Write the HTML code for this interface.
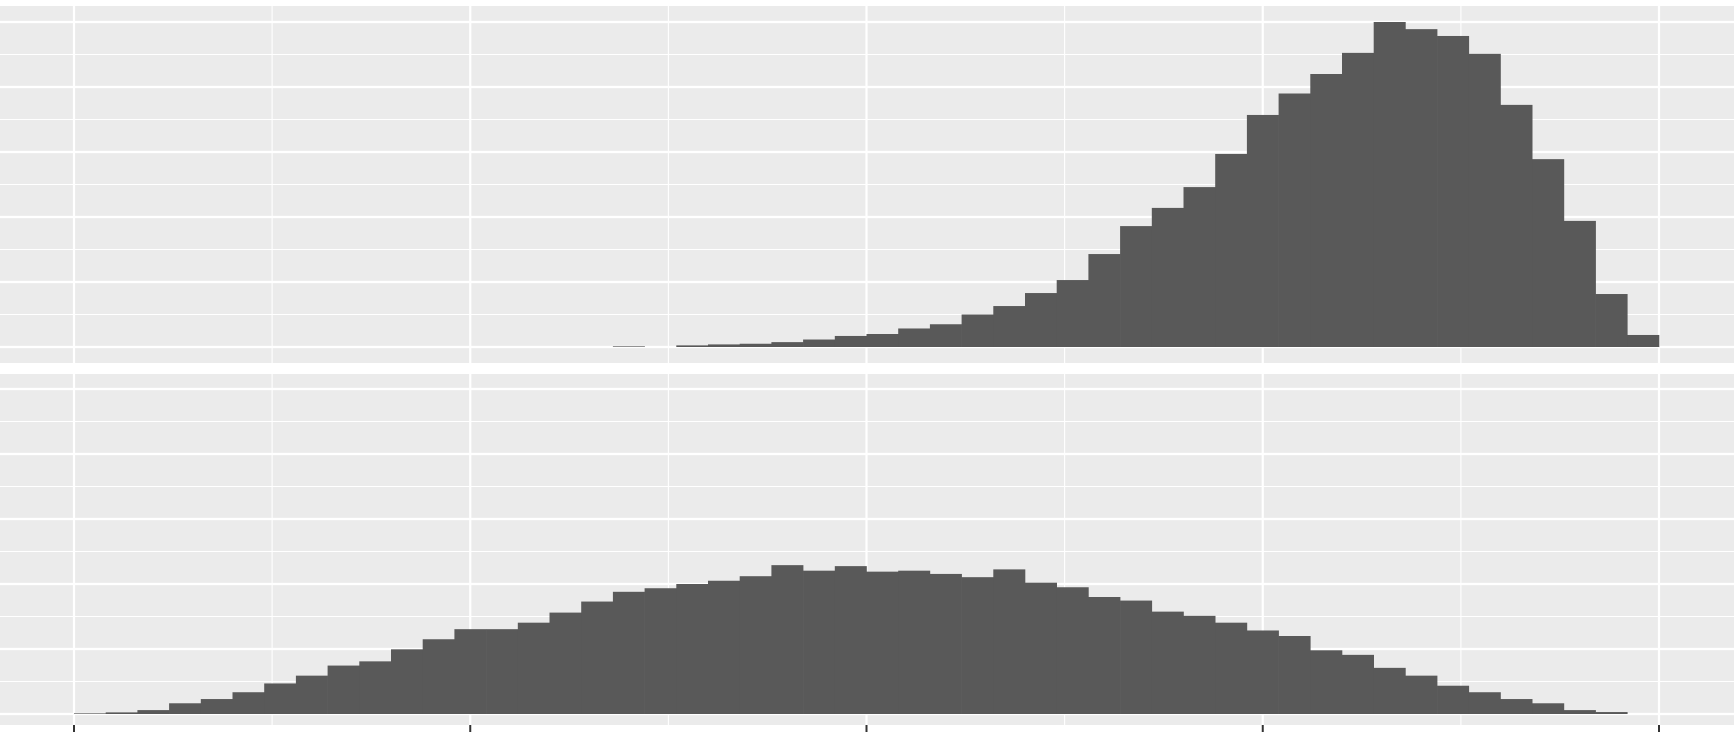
<!DOCTYPE html>
<html><head><meta charset="utf-8"><style>
html,body{margin:0;padding:0;background:#fff;}
svg{display:block;}
</style></head><body>
<svg id="chart" width="1734" height="732" xmlns="http://www.w3.org/2000/svg"></svg>
<script>
const binCount = 50;
const topValues = [0,0,0,0,0,0,0,0,0,0,0,0,0,0,0,0,
 0,0.02,0,0.05,0.08,0.1,0.15,0.23,0.34,0.4,0.57,0.7,1.0,1.26,1.66,2.06,2.86,3.72,4.28,4.92,5.94,7.14,7.8,8.4,9.05,10.0,9.78,9.57,9.02,7.45,5.78,3.88,1.63,0.37];
const bottomValues = [0.02,0.05,0.12,0.33,0.46,0.67,0.94,1.18,1.49,1.62,1.99,2.3,2.61,2.61,2.81,3.12,3.46,3.76,3.87,4.0,4.1,4.24,4.58,4.41,4.55,4.38,4.41,4.31,4.21,4.45,4.04,3.9,3.6,3.49,3.15,3.02,2.81,2.57,2.4,1.96,1.82,1.42,1.18,0.87,0.67,0.46,0.33,0.12,0.06,0];
const xTicks = [0,1,2,3,4];

const NS='http://www.w3.org/2000/svg';
const svg=document.getElementById('chart');
const x0=74, x1=1659;
const xScale=v=>x0+(x1-x0)*v/binCount;
const tickX=t=>x0+396.25*t;
const unit=32.5;
function mk(tag,attrs,parent){const e=document.createElementNS(NS,tag);for(const k in attrs)e.setAttribute(k,attrs[k]);(parent||svg).appendChild(e);return e;}

const panels=[
 {name:'top-panel',top:6,bottom:363,base:347,vals:topValues},
 {name:'bottom-panel',top:374,bottom:725,base:714,vals:bottomValues}
];
panels.forEach(p=>{
 const g=mk('g',{});
 
 
 const bg=mk('rect',{x:0,y:p.top,width:1734,height:p.bottom-p.top,fill:'#EBEBEB'},g);
 
 
 for(let k=-1;k<=22;k++){
  const y=p.base-k*unit;
  if(y<p.top||y>p.bottom)continue;
  const l=mk('line',{x1:0,x2:1734,y1:y,y2:y,stroke:'#fff','stroke-width':(k%2===0)?2.2:1.1},g);
  
  
 }
 for(let t=-0.5;t<=4.5;t+=0.5){
  const x=tickX(t);
  if(x<0||x>1734)continue;
  const major=Number.isInteger(t);
  const l=mk('line',{x1:x,x2:x,y1:p.top,y2:p.bottom,stroke:'#fff','stroke-width':major?2.2:1.1},g);
  
  
 }
 p.vals.forEach((v,i)=>{
  if(v<=0)return;
  const h=v*unit;
  const r=mk('rect',{x:xScale(i),y:p.base-h,width:xScale(i+1)-xScale(i)+0.3,height:h,fill:'#595959'},g);
  
  
 });
});
xTicks.forEach(t=>{
 const x=tickX(t);
 const l=mk('line',{x1:x,x2:x,y1:725,y2:732,stroke:'#333','stroke-width':2});
 
 
});
</script>
</body></html>
